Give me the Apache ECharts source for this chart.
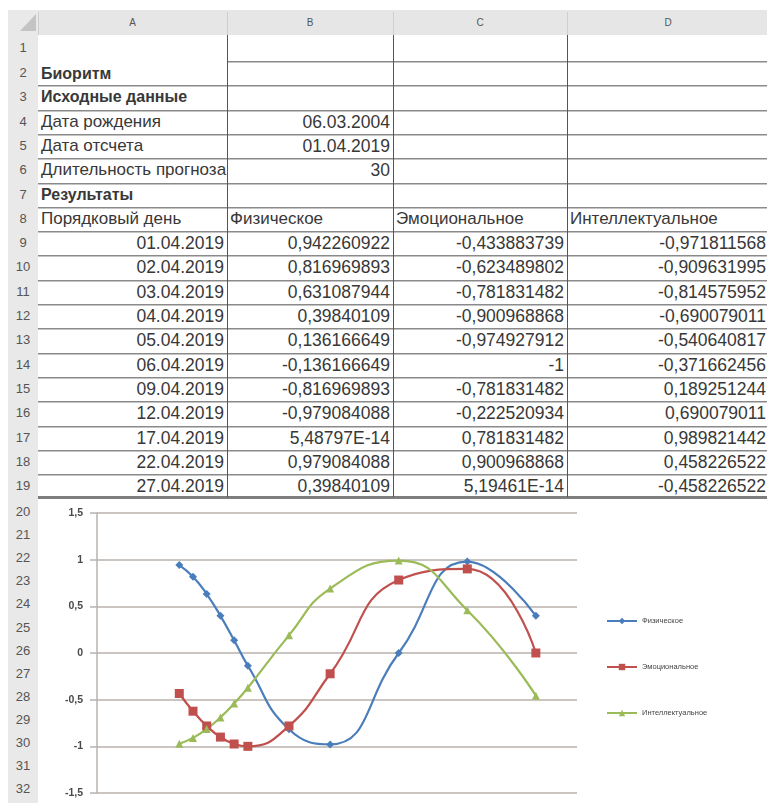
<!DOCTYPE html>
<html>
<head>
<meta charset="utf-8">
<script src="https://cdn.jsdelivr.net/npm/echarts@6/dist/echarts.min.js"></script>
<style>
  body { margin: 0; background: #fff; }
  #sheet { position: relative; width: 767px; height: 803px; overflow: hidden; font-family: "Liberation Sans", Arial, sans-serif; color: #383838; }
  .cell { position: absolute; font-size: 17px; white-space: nowrap; padding: 0 3px; box-sizing: border-box; overflow: hidden; }
  .hline { position: absolute; height: 1px; background: #8a8a8a; box-shadow: 0 1px 0 #c4c4c4; }
  .vline { position: absolute; width: 1px; background: #555; }
  .gray { position: absolute; background: #e6e6e6; }
  .rownum { position: absolute; left: 8px; width: 30px; text-align: center; font-size: 13px; color: #555; }
  .colhead { position: absolute; top: 10px; height: 25px; line-height: 25px; text-align: center; font-size: 10px; color: #555; }
  #chart { position: absolute; left: 38px; top: 500px; width: 729px; height: 303px; background: #fff; }
</style>
</head>
<body>
<div id="sheet">
  <div id="chart"></div>
</div>
<script>
// data from the sheet
const dates = ['01.04.2019', '02.04.2019', '03.04.2019', '04.04.2019', '05.04.2019', '06.04.2019',
  '09.04.2019', '12.04.2019', '17.04.2019', '22.04.2019', '27.04.2019']
const physical = [0.942260922, 0.816969893, 0.631087944, 0.39840109, 0.136166649, -0.136166649,
  -0.816969893, -0.979084088, 5.48797e-14, 0.979084088, 0.39840109]
const emotional = [-0.433883739, -0.623489802, -0.781831482, -0.900968868, -0.974927912, -1,
  -0.781831482, -0.222520934, 0.781831482, 0.900968868, 5.19461e-14]
const intellectual = [-0.971811568, -0.909631995, -0.814575952, -0.690079011, -0.540640817, -0.371662456,
  0.189251244, 0.690079011, 0.989821442, 0.458226522, -0.458226522]
const seriesNames = ['Физическое', 'Эмоциональное', 'Интеллектуальное']
const seriesColors = ['#4a7ebb', '#c0504d', '#9bbb59']
const seriesSymbols = ['diamond', 'rect', 'triangle']
const headerRows = [
  ['', '', '', ''],
  ['Биоритм', '', '', ''],
  ['Исходные данные', '', '', ''],
  ['Дата рождения', '06.03.2004', '', ''],
  ['Дата отсчета', '01.04.2019', '', ''],
  ['Длительность прогноза', '30', '', ''],
  ['Результаты', '', '', ''],
  ['Порядковый день', 'Физическое', 'Эмоциональное', 'Интеллектуальное']
]
const boldRows = [2, 3, 7]
const colLetters = ['A', 'B', 'C', 'D']
const yMin = -1.5
const yMax = 1.5
const yStep = 0.5

const sheet = document.getElementById('sheet')
const colX = [38, 227, 393, 567, 769]
const rowTop = (n) => (n === 1 ? 35 : 61 + (n - 2) * 24.3)
const rowBottom = (n) => (n === 1 ? 61 : rowTop(n) + 24.3)

const add = (cls, style, text) => {
  const el = document.createElement('div')
  el.className = cls
  Object.assign(el.style, style)
  if (text !== undefined) el.textContent = text
  sheet.insertBefore(el, document.getElementById('chart'))
  return el
}

const fmt = (v) => {
  if (v !== 0 && Math.abs(v) < 1e-5) {
    return v.toExponential(5).replace('e', 'E').replace('.', ',')
  }
  return String(parseFloat(v.toPrecision(9))).replace('.', ',')
}

// gray headers
add('gray', { left: '8px', top: '10px', width: '761px', height: '25px' })
add('gray', { left: '8px', top: '10px', width: '30px', height: '793px', background: '#e9e9e9' })
add('gray', { left: '20px', top: '14px', width: '0', height: '0', background: 'transparent',
  borderLeft: '16px solid transparent', borderBottom: '17px solid #c4c4c4' })
colLetters.forEach((c, i) => {
  add('colhead', { left: colX[i] + 'px', width: (colX[i + 1] - colX[i]) + 'px' }, c)
  add('vline', { left: colX[i] + 'px', top: '12px', height: '23px', background: '#cfcfcf' })
})

// all sheet rows
const allRows = headerRows.map((r) => r.slice())
dates.forEach((d, i) => {
  allRows.push([d, fmt(physical[i]), fmt(emotional[i]), fmt(intellectual[i])])
})
allRows.forEach((r, idx) => {
  const n = idx + 1
  const top = rowTop(n)
  const h = rowBottom(n) - top
  add('rownum', { top: top + 'px', height: h + 'px', lineHeight: h + 'px' }, String(n))
  r.forEach((txt, c) => {
    if (!txt) return
    const right = n >= 9 || (n >= 4 && n <= 6 && c > 0)
    const bold = boldRows.includes(n)
    add('cell', {
      left: colX[c] + 'px',
      top: (n === 2 ? top + 1 : top) + 'px',
      width: (colX[c + 1] - colX[c]) + 'px',
      height: h + 'px',
      lineHeight: h + 'px',
      textAlign: right ? 'right' : 'left',
      fontWeight: bold ? 'bold' : 'normal',
      fontSize: bold ? '16px' : (right ? '17.5px' : '17px')
    }, txt)
  })
  // row bottom border
  const startX = n === 1 ? colX[1] : colX[0]
  if (n < allRows.length) {
    add('hline', { left: startX + 'px', top: rowBottom(n) + 'px', width: (769 - startX) + 'px' })
  }
})
add('hline', { left: '38px', top: '496px', width: '731px', height: '3px', background: '#7e7e7e', boxShadow: 'none' })
colX.slice(1, 4).forEach((x) => {
  add('vline', { left: x + 'px', top: '35px', height: '462px' })
})
for (let n = 20; n <= 32; n++) {
  add('rownum', { top: (500 + (n - 20) * 23.1) + 'px', height: '23px', lineHeight: '23px' }, String(n))
}

// chart
const toTime = (s) => {
  const [d, m, y] = s.split('.').map(Number)
  return Date.UTC(y, m - 1, d)
}
const chart = echarts.init(document.getElementById('chart'))
const values = [physical, emotional, intellectual]
chart.setOption({
  animation: false,
  textStyle: { fontFamily: '"Liberation Sans", Arial, sans-serif' },
  grid: { left: 59, top: 13, width: 480, height: 280 },
  legend: {
    orient: 'vertical',
    left: 563,
    top: 111,
    itemWidth: 30,
    itemHeight: 8,
    itemGap: 36,
    textStyle: { fontSize: 7.5, lineHeight: 10, color: '#444' },
    data: seriesNames
  },
  xAxis: {
    type: 'time',
    min: Date.UTC(2019, 2, 26),
    max: Date.UTC(2019, 3, 30),
    axisLabel: { show: false },
    axisTick: { show: false },
    axisLine: { show: false },
    splitLine: { show: false }
  },
  yAxis: {
    type: 'value',
    min: yMin,
    max: yMax,
    interval: yStep,
    axisLine: { show: true, lineStyle: { color: '#bab2ae', width: 1.5 } },
    axisTick: { show: true, length: 7, lineStyle: { color: '#bab2ae', width: 1.5 } },
    splitLine: { lineStyle: { color: '#bab2ae', width: 1.5 } },
    axisLabel: {
      margin: 14,
      fontSize: 10.5,
      fontWeight: 'bold',
      color: '#4a4a4a',
      formatter: (v) => String(v).replace('.', ',')
    }
  },
  series: seriesNames.map((name, i) => ({
    name,
    type: 'line',
    smooth: 0.5,
    color: seriesColors[i],
    symbol: seriesSymbols[i],
    symbolSize: i === 1 ? 9 : 8,
    lineStyle: { width: 2.2 },
    data: dates.map((d, k) => [toTime(d), values[i][k]])
  }))
})
</script>
</body>
</html>
